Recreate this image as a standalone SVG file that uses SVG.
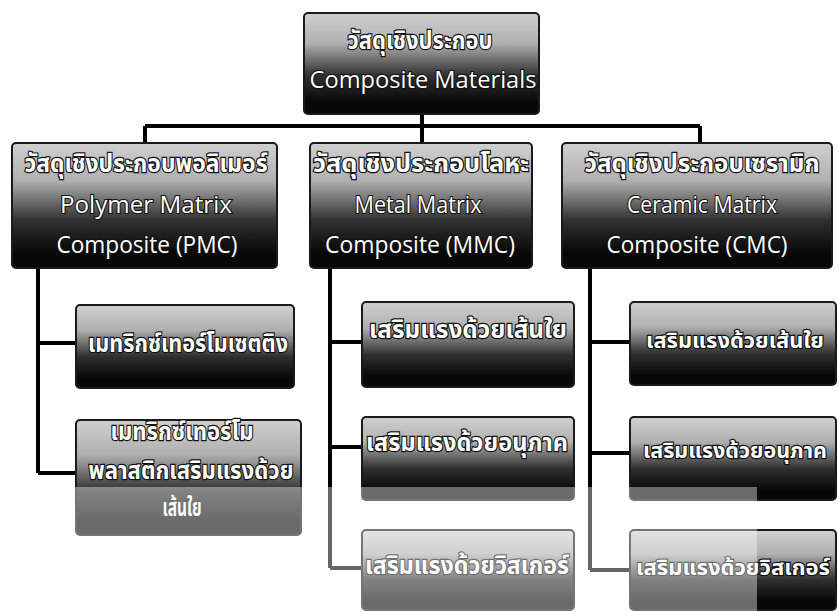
<svg xmlns="http://www.w3.org/2000/svg" width="839" height="612" viewBox="0 0 839 612">
<defs>
<linearGradient id="g" x1="0" y1="0" x2="0" y2="1">
<stop offset="0" stop-color="#d0d0d0"/>
<stop offset="0.3" stop-color="#b0b0b0"/>
<stop offset="0.62" stop-color="#303030"/>
<stop offset="0.88" stop-color="#080808"/>
<stop offset="1" stop-color="#080808"/>
</linearGradient>
<style>
.box{fill:url(#g);stroke:#1a1a1a;stroke-width:2}
.t{font-family:"Noto Sans Thai","Leelawadee UI","Tahoma","Noto Sans",sans-serif;font-weight:bold;fill:#ffffff;stroke:#111;stroke-width:2.4;paint-order:stroke;text-anchor:middle;font-size:25px}
.s{font-size:22px}
.e{font-family:"Open Sans","Liberation Sans",sans-serif;fill:#ffffff;stroke:#111;stroke-width:2.2;paint-order:stroke;text-anchor:middle;font-size:24px}
.c{fill:none;stroke:#000;stroke-width:4}
</style>
</defs>
<rect width="839" height="612" fill="#ffffff"/>
<g id="connectors">
<path class="c" d="M422 113V126M145 126H700M145 126V143M422 126V143M700 126V143"/>
<path class="c" d="M38 268V473M38 343H76M38 473H76"/>
<path class="c" d="M330 268V568M330 342H362M330 447H362M330 568H362"/>
<path class="c" d="M590 268V570M590 342H630M590 453H630M590 570H630"/>
</g>
<g id="root">
<rect class="box" x="304" y="13" width="235" height="101" rx="4"/>
<text class="t" x="420" y="49" textLength="145" lengthAdjust="spacingAndGlyphs">วัสดุเชิงประกอบ</text>
<text class="e" x="423" y="88" textLength="227" lengthAdjust="spacingAndGlyphs">Composite Materials</text>
</g>
<g id="pmc">
<rect class="box" x="12" y="143" width="265" height="125" rx="4"/>
<text class="t" x="146" y="172" textLength="243" lengthAdjust="spacingAndGlyphs">วัสดุเชิงประกอบพอลิเมอร์</text>
<text class="e" x="146" y="213" textLength="172" lengthAdjust="spacingAndGlyphs">Polymer Matrix</text>
<text class="e" x="147" y="253" textLength="181" lengthAdjust="spacingAndGlyphs">Composite (PMC)</text>
</g>
<g id="mmc">
<rect class="box" x="310" y="143" width="222" height="125" rx="4"/>
<text class="t" x="421" y="172" textLength="216" lengthAdjust="spacingAndGlyphs">วัสดุเชิงประกอบโลหะ</text>
<text class="e" x="418" y="213" textLength="127" lengthAdjust="spacingAndGlyphs">Metal Matrix</text>
<text class="e" x="420" y="253" textLength="190" lengthAdjust="spacingAndGlyphs">Composite (MMC)</text>
</g>
<g id="cmc">
<rect class="box" x="562" y="143" width="270" height="125" rx="4"/>
<text class="t" x="702" y="172" textLength="235" lengthAdjust="spacingAndGlyphs">วัสดุเชิงประกอบเซรามิก</text>
<text class="e" x="702" y="213" textLength="150" lengthAdjust="spacingAndGlyphs">Ceramic Matrix</text>
<text class="e" x="697" y="253" textLength="181" lengthAdjust="spacingAndGlyphs">Composite (CMC)</text>
</g>
<g id="pmc1">
<rect class="box" x="76" y="305" width="218" height="83" rx="4"/>
<text class="t" x="188" y="352" textLength="200" lengthAdjust="spacingAndGlyphs">เมทริกซ์เทอร์โมเซตติง</text>
</g>
<g id="pmc2">
<rect class="box" x="76" y="420" width="225" height="115" rx="4"/>
<text class="t" x="182" y="440" textLength="143" lengthAdjust="spacingAndGlyphs">เมทริกซ์เทอร์โม</text>
<text class="t" x="191" y="479" textLength="205" lengthAdjust="spacingAndGlyphs">พลาสติกเสริมแรงด้วย</text>
<text class="t" x="182" y="516" textLength="39" lengthAdjust="spacingAndGlyphs">เส้นใย</text>
</g>
<g id="mmc1">
<rect class="box" x="362" y="302" width="212" height="85" rx="4"/>
<text class="t" x="468" y="338" textLength="198" lengthAdjust="spacingAndGlyphs">เสริมแรงด้วยเส้นใย</text>
</g>
<g id="mmc2">
<rect class="box" x="362" y="417" width="212" height="83" rx="4"/>
<text class="t" x="467" y="451" textLength="202" lengthAdjust="spacingAndGlyphs">เสริมแรงด้วยอนุภาค</text>
</g>
<g id="mmc3">
<rect class="box" x="362" y="530" width="212" height="80" rx="4"/>
<text class="t" x="467" y="574" textLength="204" lengthAdjust="spacingAndGlyphs">เสริมแรงด้วยวิสเกอร์</text>
</g>
<g id="cmc1">
<rect class="box" x="630" y="302" width="206" height="83" rx="4"/>
<text class="t s" x="735" y="348" textLength="178" lengthAdjust="spacingAndGlyphs">เสริมแรงด้วยเส้นใย</text>
</g>
<g id="cmc2">
<rect class="box" x="630" y="417" width="206" height="83" rx="4"/>
<text class="t s" x="735" y="458" textLength="184" lengthAdjust="spacingAndGlyphs">เสริมแรงด้วยอนุภาค</text>
</g>
<g id="cmc3">
<rect class="box" x="630" y="530" width="206" height="80" rx="4"/>
<text class="t s" x="733" y="575" textLength="194" lengthAdjust="spacingAndGlyphs">เสริมแรงด้วยวิสเกอร์</text>
</g>
<rect x="0" y="487" width="757" height="125" fill="#ffffff" opacity="0.4"/>
</svg>
